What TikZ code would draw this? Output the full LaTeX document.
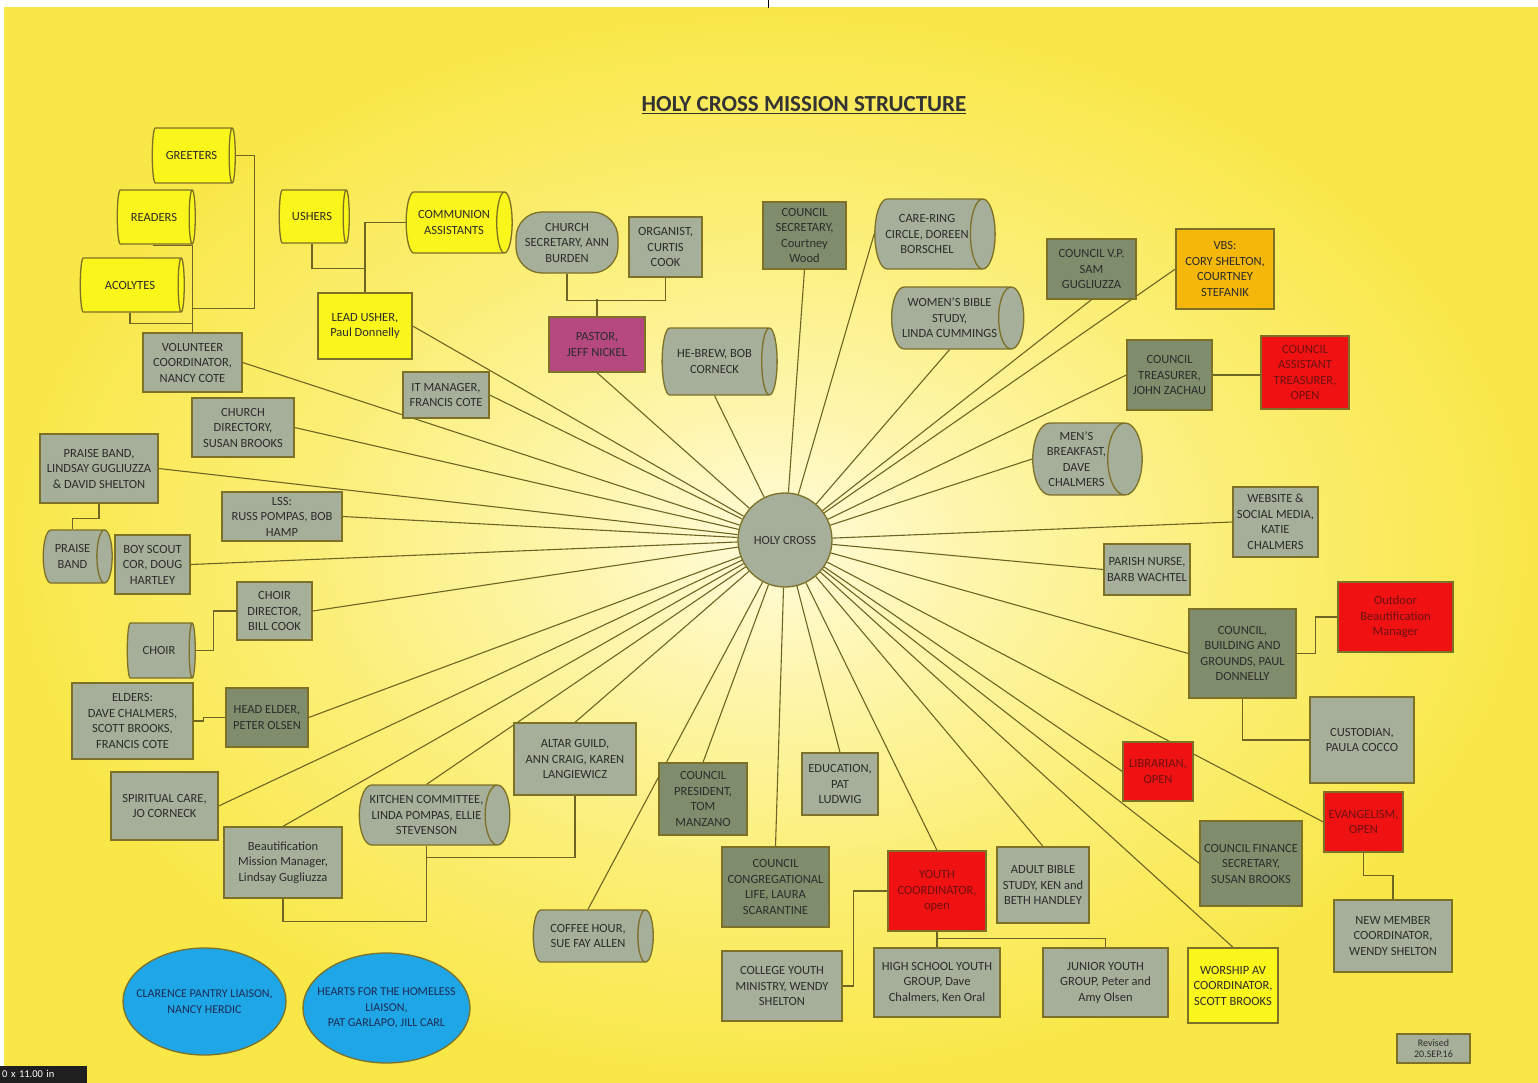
\documentclass[tikz,border=0pt]{standalone}
\usepackage{fontspec}
\setmainfont{Carlito}
\usetikzlibrary{shapes.geometric,calc}
\definecolor{bgA}{HTML}{FFFCDC}
\definecolor{bgB}{HTML}{FEF6B0}
\definecolor{bgC}{HTML}{FBEE72}
\definecolor{bgD}{HTML}{F9E748}
\definecolor{gfill}{HTML}{A6AF9A}
\definecolor{dfill}{HTML}{7F8D6C}
\definecolor{yfill}{HTML}{FAF51A}
\definecolor{ofill}{HTML}{F4B70A}
\definecolor{rfill}{HTML}{F01212}
\definecolor{pfill}{HTML}{B5487F}
\definecolor{bfill}{HTML}{1FA6E6}
\definecolor{bord}{HTML}{7D7027}
\definecolor{lnc}{HTML}{6E6423}
\definecolor{txt}{HTML}{2C2C2C}
\definecolor{rtxt}{HTML}{6E1010}
\definecolor{otxt}{HTML}{1D2C55}
\definecolor{ttl}{HTML}{333333}
\pgfdeclareradialshading{bgshade}{\pgfpoint{0bp}{0bp}}{color(0bp)=(bgA); color(6bp)=(bgB); color(16bp)=(bgC); color(25bp)=(bgD); color(50bp)=(bgD)}
\pgfdeclarelayer{bgl}
\pgfdeclarelayer{lines}
\pgfsetlayers{bgl,lines,main}
\begin{document}
\begin{tikzpicture}[x=1pt,y=-1pt,
  base/.style={draw=bord, line width=1.3pt, align=center, text=txt, inner sep=1pt,
    font=\fontsize{12.5}{15.5}\selectfont},
  gbox/.style={base, fill=gfill},
  dbox/.style={base, fill=dfill},
  ybox/.style={base, fill=yfill},
  obox/.style={base, fill=ofill},
  rbox/.style={base, fill=rfill, text=rtxt},
  pbox/.style={base, fill=pfill},
  cyl/.style={base, cylinder, shape aspect=0.6},
  oval/.style={draw=bord, line width=1.3pt, ellipse, fill=bfill, inner sep=0pt},
  ovtext/.style={align=center, text=otxt, font=\fontsize{12}{15.5}\selectfont},
  spoke/.style={draw=lnc, line width=1.1pt},
  link/.style={draw=lnc, line width=1.1pt}]
\useasboundingbox (0,0) rectangle (1538,1083);
\begin{pgfonlayer}{bgl}
\fill[white] (0,0) rectangle (1538,1083);
\shade[shading=bgshade] (4,8) rectangle (1538,1083);
\draw[black, line width=1pt] (768,0) -- (768,8);
\end{pgfonlayer}

% title
\node[font=\fontsize{23}{28}\selectfont\bfseries, text=ttl] (title) at (804,105) {\underline{HOLY CROSS MISSION STRUCTURE}};

% centre
\node[base, circle, fill=gfill, minimum size=94] (hc) at (785,540) {HOLY CROSS};

% top-left volunteer group
\node[cyl, fill=yfill, minimum height=83, minimum width=55] (greeters) at (191.5,155.5) {GREETERS};
\node[cyl, fill=yfill, minimum height=78, minimum width=54] (readers) at (154,217) {READERS};
\node[cyl, fill=yfill, minimum height=104, minimum width=54] (acolytes) at (130,285) {ACOLYTES};
\node[gbox, minimum width=99, minimum height=59] (vol) at (192.5,362.5) {VOLUNTEER\\COORDINATOR,\\NANCY COTE};

% ushers group
\node[cyl, fill=yfill, minimum height=70, minimum width=53] (ushers) at (312,216.5) {USHERS};
\node[cyl, fill=yfill, minimum height=106, minimum width=61] (comm) at (454,222.5) {COMMUNION\\ASSISTANTS};
\node[ybox, minimum width=94, minimum height=66] (lead) at (365,326) {LEAD USHER,\\Paul Donnelly};

% left side
\node[gbox, minimum width=86, minimum height=46] (it) at (446,395) {IT MANAGER,\\FRANCIS COTE};
\node[gbox, minimum width=102, minimum height=59] (dir) at (243,427.5) {CHURCH\\DIRECTORY,\\SUSAN BROOKS};
\node[gbox, minimum width=118, minimum height=69] (pbbox) at (99,468.5) {PRAISE BAND,\\LINDSAY GUGLIUZZA\\\& DAVID SHELTON};
\node[gbox, minimum width=120, minimum height=49] (lss) at (282,516.5) {LSS:\\RUSS POMPAS, BOB\\HAMP};
\node[cyl, fill=gfill, minimum height=69, minimum width=53] (pbcyl) at (72.5,556.5) {PRAISE\\BAND};
\node[gbox, minimum width=75, minimum height=59] (boy) at (152.5,564.5) {BOY SCOUT\\COR, DOUG\\HARTLEY};
\node[gbox, minimum width=75, minimum height=58] (chdir) at (274.5,611) {CHOIR\\DIRECTOR,\\BILL COOK};
\node[cyl, fill=gfill, minimum height=68, minimum width=55] (choir) at (159,650.5) {CHOIR};
\node[gbox, minimum width=121, minimum height=76] (elders) at (132.5,721) {ELDERS:\\DAVE CHALMERS,\\SCOTT BROOKS,\\FRANCIS COTE};
\node[dbox, minimum width=82, minimum height=59] (head) at (267,717.5) {HEAD ELDER,\\PETER OLSEN};
\node[gbox, minimum width=107, minimum height=68] (spir) at (164.5,806) {SPIRITUAL CARE,\\JO CORNECK};
\node[gbox, minimum width=118, minimum height=71] (beaut) at (283,862.5) {Beautification\\Mission Manager,\\Lindsay Gugliuzza};
\node[cyl, fill=gfill, minimum height=143, minimum width=60] (kit) at (426.5,815) {KITCHEN COMMITTEE,\\LINDA POMPAS, ELLIE\\STEVENSON};

% bottom
\node[gbox, minimum width=122, minimum height=72] (altar) at (575,759) {ALTAR GUILD,\\ANN CRAIG, KAREN\\LANGIEWICZ};
\node[cyl, fill=gfill, minimum height=120, minimum width=52] (coffee) at (588,936) {COFFEE HOUR,\\SUE FAY ALLEN};
\node[dbox, minimum width=88, minimum height=72] (pres) at (703,799) {COUNCIL\\PRESIDENT,\\TOM\\MANZANO};
\node[dbox, minimum width=107, minimum height=80] (clife) at (775.5,887) {COUNCIL\\CONGREGATIONAL\\LIFE, LAURA\\SCARANTINE};
\node[gbox, minimum width=76, minimum height=62] (edu) at (840,784) {EDUCATION,\\PAT\\LUDWIG};
\node[gbox, minimum width=120, minimum height=70] (college) at (782,986) {COLLEGE YOUTH\\MINISTRY, WENDY\\SHELTON};
\node[rbox, minimum width=98, minimum height=80] (youth) at (937,891) {YOUTH\\COORDINATOR,\\open};
\node[gbox, minimum width=126, minimum height=69] (hs) at (937,982.5) {HIGH SCHOOL YOUTH\\GROUP, Dave\\Chalmers, Ken Oral};
\node[gbox, minimum width=92, minimum height=76] (adult) at (1043,885) {ADULT BIBLE\\STUDY, KEN and\\BETH HANDLEY};
\node[gbox, minimum width=125, minimum height=69] (junior) at (1105.5,982.5) {JUNIOR YOUTH\\GROUP, Peter and\\Amy Olsen};
\node[ybox, minimum width=90, minimum height=75] (wav) at (1233,985.5) {WORSHIP AV\\COORDINATOR,\\SCOTT BROOKS};

% right side
\node[dbox, minimum width=102, minimum height=85] (fin) at (1251,863.5) {COUNCIL FINANCE\\SECRETARY,\\SUSAN BROOKS};
\node[rbox, minimum width=70, minimum height=59] (lib) at (1158,771.5) {LIBRARIAN,\\OPEN};
\node[rbox, minimum width=79, minimum height=60] (ev) at (1363.5,822) {EVANGELISM,\\OPEN};
\node[gbox, minimum width=118, minimum height=72] (newm) at (1393,936) {NEW MEMBER\\COORDINATOR,\\WENDY SHELTON};
\node[gbox, minimum width=104, minimum height=86] (cust) at (1362,740) {CUSTODIAN,\\PAULA COCCO};
\node[dbox, minimum width=107, minimum height=89] (bg) at (1242.5,653.5) {COUNCIL,\\BUILDING AND\\GROUNDS, PAUL\\DONNELLY};
\node[rbox, minimum width=115, minimum height=70] (outd) at (1395.5,617) {Outdoor\\Beautification\\Manager};
\node[gbox, minimum width=86, minimum height=51] (nurse) at (1147,569.5) {PARISH NURSE,\\BARB WACHTEL};
\node[gbox, minimum width=85, minimum height=70] (web) at (1275.5,522) {WEBSITE \&\\SOCIAL MEDIA,\\KATIE\\CHALMERS};
\node[cyl, fill=gfill, minimum height=101, minimum width=72] (mens) at (1076.5,459) {MEN'S\\BREAKFAST,\\DAVE\\CHALMERS};
\node[dbox, minimum width=85, minimum height=70] (treas) at (1169.5,375) {COUNCIL\\TREASURER,\\JOHN ZACHAU};
\node[rbox, minimum width=88, minimum height=73] (asst) at (1305,372.5) {COUNCIL\\ASSISTANT\\TREASURER,\\OPEN};
\node[dbox, minimum width=89, minimum height=60] (vp) at (1091.5,269) {COUNCIL V.P.\\SAM\\GUGLIUZZA};
\node[obox, minimum width=98, minimum height=80] (vbs) at (1225,269) {VBS:\\CORY SHELTON,\\COURTNEY\\STEFANIK};

% top
\node[cyl, fill=gfill, minimum height=125, minimum width=62] (wbs) at (949.5,318) {WOMEN'S BIBLE\\STUDY,\\LINDA CUMMINGS};
\node[cyl, fill=gfill, minimum height=118, minimum width=70] (care) at (927,234) {CARE-RING\\CIRCLE, DOREEN\\BORSCHEL};
\node[dbox, minimum width=83, minimum height=67] (csec) at (804.5,235.5) {COUNCIL\\SECRETARY,\\Courtney\\Wood};
\node[cyl, fill=gfill, minimum height=115, minimum width=67] (heb) at (714.5,361.5) {HE-BREW, BOB\\CORNECK};
\node[pbox, minimum width=96, minimum height=55] (pastor) at (597,344.5) {PASTOR,\\JEFF NICKEL};
\node[gbox, minimum width=73, minimum height=60] (org) at (665.5,247) {ORGANIST,\\CURTIS\\COOK};
\node[gbox, rounded corners=26, minimum width=102, minimum height=61] (sec) at (567,242.5) {CHURCH\\SECRETARY, ANN\\BURDEN};

% liaison ovals
\node[oval, minimum width=163, minimum height=107] (clar) at (204.5,1001.5) {};
\node[ovtext] (clart) at (clar) {CLARENCE PANTRY LIAISON,\\NANCY HERDIC};
\node[oval, minimum width=167, minimum height=110] (hearts) at (386.5,1008) {};
\node[ovtext] (heartst) at (hearts) {HEARTS FOR THE HOMELESS\\LIAISON,\\PAT GARLAPO, JILL CARL};

% revised & page label
\node[gbox, font=\fontsize{10}{11.5}\selectfont, minimum width=73, minimum height=29] (rev) at (1433.5,1048.5) {Revised\\20.SEP.16};
\node[fill=black!88, text=white, font=\fontsize{10.5}{12}\selectfont, anchor=south west, inner sep=2pt,
  text width=83, minimum height=17, align=left] (dim) at (0,1083) {0 x 11.00 in};

% connectors
\begin{pgfonlayer}{lines}
\foreach \a in {vol.east, lead.east, it.east, dir.east, pbbox.east, lss.east, boy.east, chdir.east,
  head.east, spir.east, beaut.north, kit.north, altar.north, coffee.north, pres.north, clife.north,
  edu.north, youth.north, adult.north, wav.north, fin.west, ev.west, lib.west, bg.west, nurse.west,
  web.west, mens.west, treas.west, vbs.west, vp.south, wbs.south, care.west, csec.south, heb.south,
  pastor.south}
  \draw[spoke] (\a) -- (hc);
\draw[link] (greeters.east) -| ++(19,153) -| (vol.north);
\draw[link] (readers.south) -- ++(0,1) -| (vol.north);
\draw[link] (acolytes.south) -- ++(0,11) -| (vol.north);
\draw[link] (ushers.south) -- ++(0,25) -| (lead.north);
\draw[link] (comm.west) -| (lead.north);
\draw[link] (sec.south) -- ++(0,27) -| (org.south);
\draw[link] (pastor.north) -- ++(0,-17);
\draw[link] (pbbox.south) -- ++(0,15) -| (pbcyl.north);
\draw[link] (choir.east) -- ++(18,0) |- (chdir.west);
\draw[link] (elders.east) -- ++(10,0) |- (head.west);
\draw[link] (kit.south) -- ++(0,76) -| (beaut.south);
\draw[link] (altar.south) |- ($(kit.south)+(0,12)$);
\draw[link] (college.east) -- ++(11,0) |- (youth.west);
\draw[link] (youth.south) -- (hs.north);
\draw[link] ($(youth.south)+(0,7)$) -| (junior.north);
\draw[link] (bg.east) -- ++(19,0) |- (outd.west);
\draw[link] (bg.south) |- (cust.west);
\draw[link] (treas.east) -- (asst.west |- treas.east);
\draw[link] (ev.south) -- ++(0,23) -| (newm.north);
\end{pgfonlayer}
\end{tikzpicture}
\end{document}
